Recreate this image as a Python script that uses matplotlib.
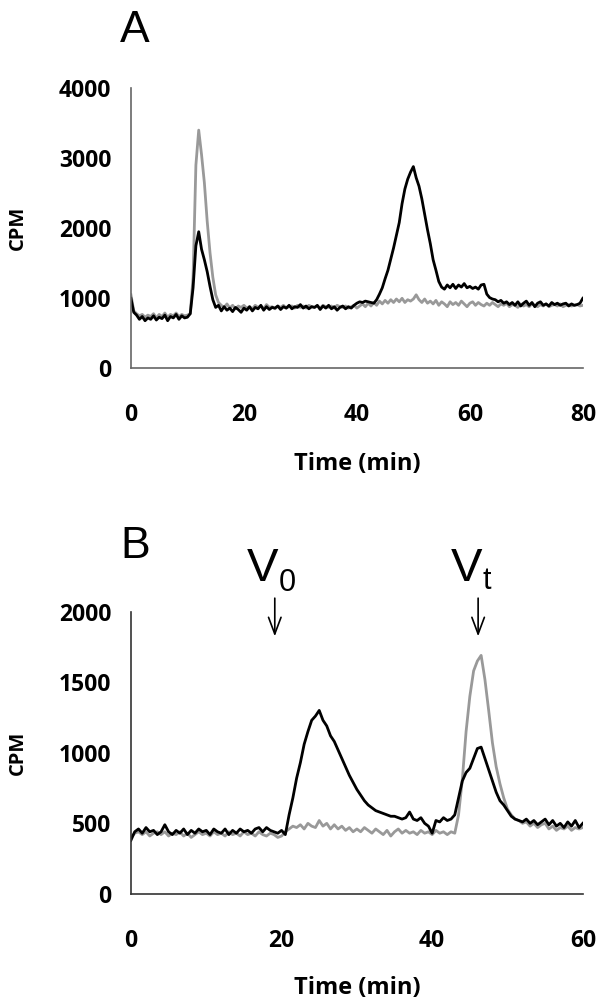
import numpy as np
import matplotlib
matplotlib.use("Agg")
import matplotlib.pyplot as plt

# --- panel A data (time in min, CPM) ---
tA = np.arange(0, 80.5, 0.5)
blackA = [
    1000, 800, 760, 700, 740, 680, 720, 700, 750, 690,
    730, 710, 760, 680, 740, 720, 770, 700, 750, 720,
    730, 780, 1150, 1750, 1950, 1700, 1550, 1380, 1170, 980,
    870, 900, 820, 880, 830, 860, 810, 870, 840, 800,
    860, 830, 880, 820, 870, 850, 900, 830, 880, 840,
    870, 860, 890, 840, 880, 860, 900, 850, 880, 870,
    910, 860, 890, 850, 880, 870, 900, 840, 890, 860,
    900, 850, 880, 830, 870, 890, 850, 880, 860, 900,
    930, 950, 940, 960, 950, 940, 930, 980, 1060, 1150,
    1280, 1400, 1560, 1720, 1900, 2080, 2350, 2560, 2700, 2800,
    2880, 2720, 2600, 2420, 2200, 1980, 1780, 1550, 1400, 1240,
    1160, 1130, 1190, 1150, 1200, 1140, 1190, 1160, 1210, 1150,
    1170, 1140, 1160, 1130, 1190, 1200, 1060, 1010, 990, 980,
    950, 970, 930, 950, 910, 940, 900, 950, 890, 930,
    960, 900, 940, 880, 930, 950, 900, 920, 890, 940,
    910, 930, 900, 920, 930, 890, 920, 900, 910, 930,
    1000,
]
grayA = [
    1050, 820, 780, 750, 770, 730, 760, 740, 780, 720,
    770, 740, 790, 730, 770, 750, 790, 740, 770, 750,
    760, 780, 1300, 2900, 3400, 3050, 2650, 2100, 1650, 1300,
    1050, 940, 900, 870, 920, 860, 900, 850, 890, 870,
    900, 860, 880, 850, 900, 870, 890, 850, 910, 870,
    880, 850, 890, 870, 900, 860, 880, 890, 860, 900,
    870, 890, 860, 900, 880, 870, 890, 860, 900, 880,
    870, 890, 860, 900, 880, 870, 890, 860, 880, 900,
    860, 890, 920, 880, 930, 890, 940, 900, 960, 920,
    970, 930, 980, 940, 990, 950, 1000, 940, 980, 960,
    990, 1050, 980, 940, 990, 930, 960, 920, 970, 900,
    950, 920, 880, 950, 910, 940, 900, 960, 920, 880,
    930, 950, 900, 940, 910, 890, 930, 900, 940, 910,
    880, 920, 900, 930, 880, 910, 900, 870, 920, 890,
    910, 880, 920, 900, 880, 910, 890, 920, 880, 900,
    910, 890, 920, 880, 900, 910, 890, 900, 910, 890,
    900,
]

# --- panel B data ---
tB = np.arange(0, 60.5, 0.5)
blackB = [
    380, 440, 460, 430, 470, 440, 450, 420, 440, 490,
    440, 420, 450, 430, 460, 420, 450, 430, 460, 440,
    450, 420, 460, 440, 430, 460, 420, 450, 430, 460,
    440, 450, 430, 460, 470, 440, 470, 450, 440, 430,
    450, 420, 560, 680, 820, 930, 1060, 1150, 1230, 1260,
    1300, 1230, 1190, 1120, 1080, 1020, 960, 900, 840, 790,
    740, 700, 660, 630, 610, 590, 580, 570, 560, 550,
    550, 540, 530, 540, 580, 530, 520, 540, 500, 480,
    430, 520, 510, 540, 520, 530, 560, 680, 800, 860,
    890, 960, 1030, 1040, 960, 880, 800, 720, 660, 630,
    590, 550, 530, 520, 510, 530, 500, 520, 490, 510,
    530, 490, 520, 480, 500, 470, 510, 480, 520, 470,
    500,
]
grayB = [
    400, 430, 440, 420, 440, 410, 430, 440, 420, 440,
    410, 430, 420, 440, 410, 430, 400, 420, 440, 420,
    430, 410, 440, 420, 430, 410, 440, 420, 430, 410,
    440, 420, 430, 410, 440, 420, 410, 430, 420, 400,
    410, 440, 460, 480, 470, 490, 460, 500, 480, 470,
    520, 480, 500, 460, 490, 460, 480, 450, 470, 440,
    460, 440, 470, 450, 430, 460, 440, 420, 450, 410,
    440, 460, 430, 450, 430, 440, 420, 450, 430, 440,
    420, 450, 430, 440, 420, 440, 430, 560, 810, 1150,
    1400, 1580, 1650, 1690, 1520, 1300, 1070, 900, 780, 680,
    600, 560, 530, 520, 500, 510, 480, 500, 470, 490,
    500, 460, 480, 450, 470, 460, 480, 450, 470, 460,
    470,
]

xticksA = [0, 20, 40, 60, 80]
yticksA = [0, 1000, 2000, 3000, 4000]
xticksB = [0, 20, 40, 60]
yticksB = [0, 500, 1000, 1500, 2000]

plt.rcParams['font.family'] = ['Open Sans', 'DejaVu Sans']
plt.rcParams['font.weight'] = 'bold'

fig = plt.figure(figsize=(6.09, 10.01), dpi=100)
axA = fig.add_axes([0.215, 0.632, 0.742, 0.280])
axB = fig.add_axes([0.215, 0.107, 0.742, 0.282])


def style(ax, xt, yt, spine_col):
    ax.set_xticks(xt)
    ax.set_yticks(yt)
    ax.set_xlim(xt[0], xt[-1])
    ax.set_ylim(yt[0], yt[-1])
    for s in ["top", "right"]:
        ax.spines[s].set_visible(False)
    for s in ["left", "bottom"]:
        ax.spines[s].set_color(spine_col)
        ax.spines[s].set_linewidth(1.2)
    ax.tick_params(axis="x", length=0, pad=25, labelsize=16.5)
    ax.tick_params(axis="y", length=0, pad=14, labelsize=16.5)
    ax.set_xlabel("Time (min)", fontsize=17, fontweight="bold")
    ax.set_ylabel("CPM", fontsize=14.5, fontweight="bold")


style(axA, xticksA, yticksA, "#666666")
axA.plot(tA, grayA, color="#999999", lw=2.0)
axA.plot(tA, blackA, color="black", lw=2.0)
axA.xaxis.set_label_coords(0.5, -0.30)
axA.yaxis.set_label_coords(-0.228, 0.5)

style(axB, xticksB, yticksB, "#333333")
axB.plot(tB, grayB, color="#999999", lw=2.0)
axB.plot(tB, blackB, color="black", lw=2.0)
axB.xaxis.set_label_coords(0.5, -0.29)
axB.yaxis.set_label_coords(-0.228, 0.5)

# arrows for V0 and Vt
for xa in [19.1, 46.1]:
    axB.annotate("", xy=(xa, 1805), xytext=(xa, 2115),
                 arrowprops=dict(arrowstyle="->,head_width=0.45,head_length=1.2",
                                 lw=1.2, color="black"),
                 annotation_clip=False)
axB.text(17.5, 2300, "V", fontsize=34, family="Liberation Sans",
         fontweight="normal", ha="center", va="center", clip_on=False)
axB.text(20.7, 2200, "0", fontsize=22, family="Liberation Sans",
         fontweight="normal", ha="center", va="center", clip_on=False)
axB.text(44.6, 2300, "V", fontsize=34, family="Liberation Sans",
         fontweight="normal", ha="center", va="center", clip_on=False)
axB.text(47.3, 2215, "t", fontsize=22, family="Liberation Sans",
         fontweight="normal", ha="center", va="center", clip_on=False)

fig.text(135 / 609, 1 - 30 / 1001, "A", fontsize=32, family="Liberation Sans",
         fontweight="normal", ha="center", va="center")
fig.text(135 / 609, 1 - 546 / 1001, "B", fontsize=32, family="Liberation Sans",
         fontweight="normal", ha="center", va="center")

fig.savefig("out.png", dpi=100)
